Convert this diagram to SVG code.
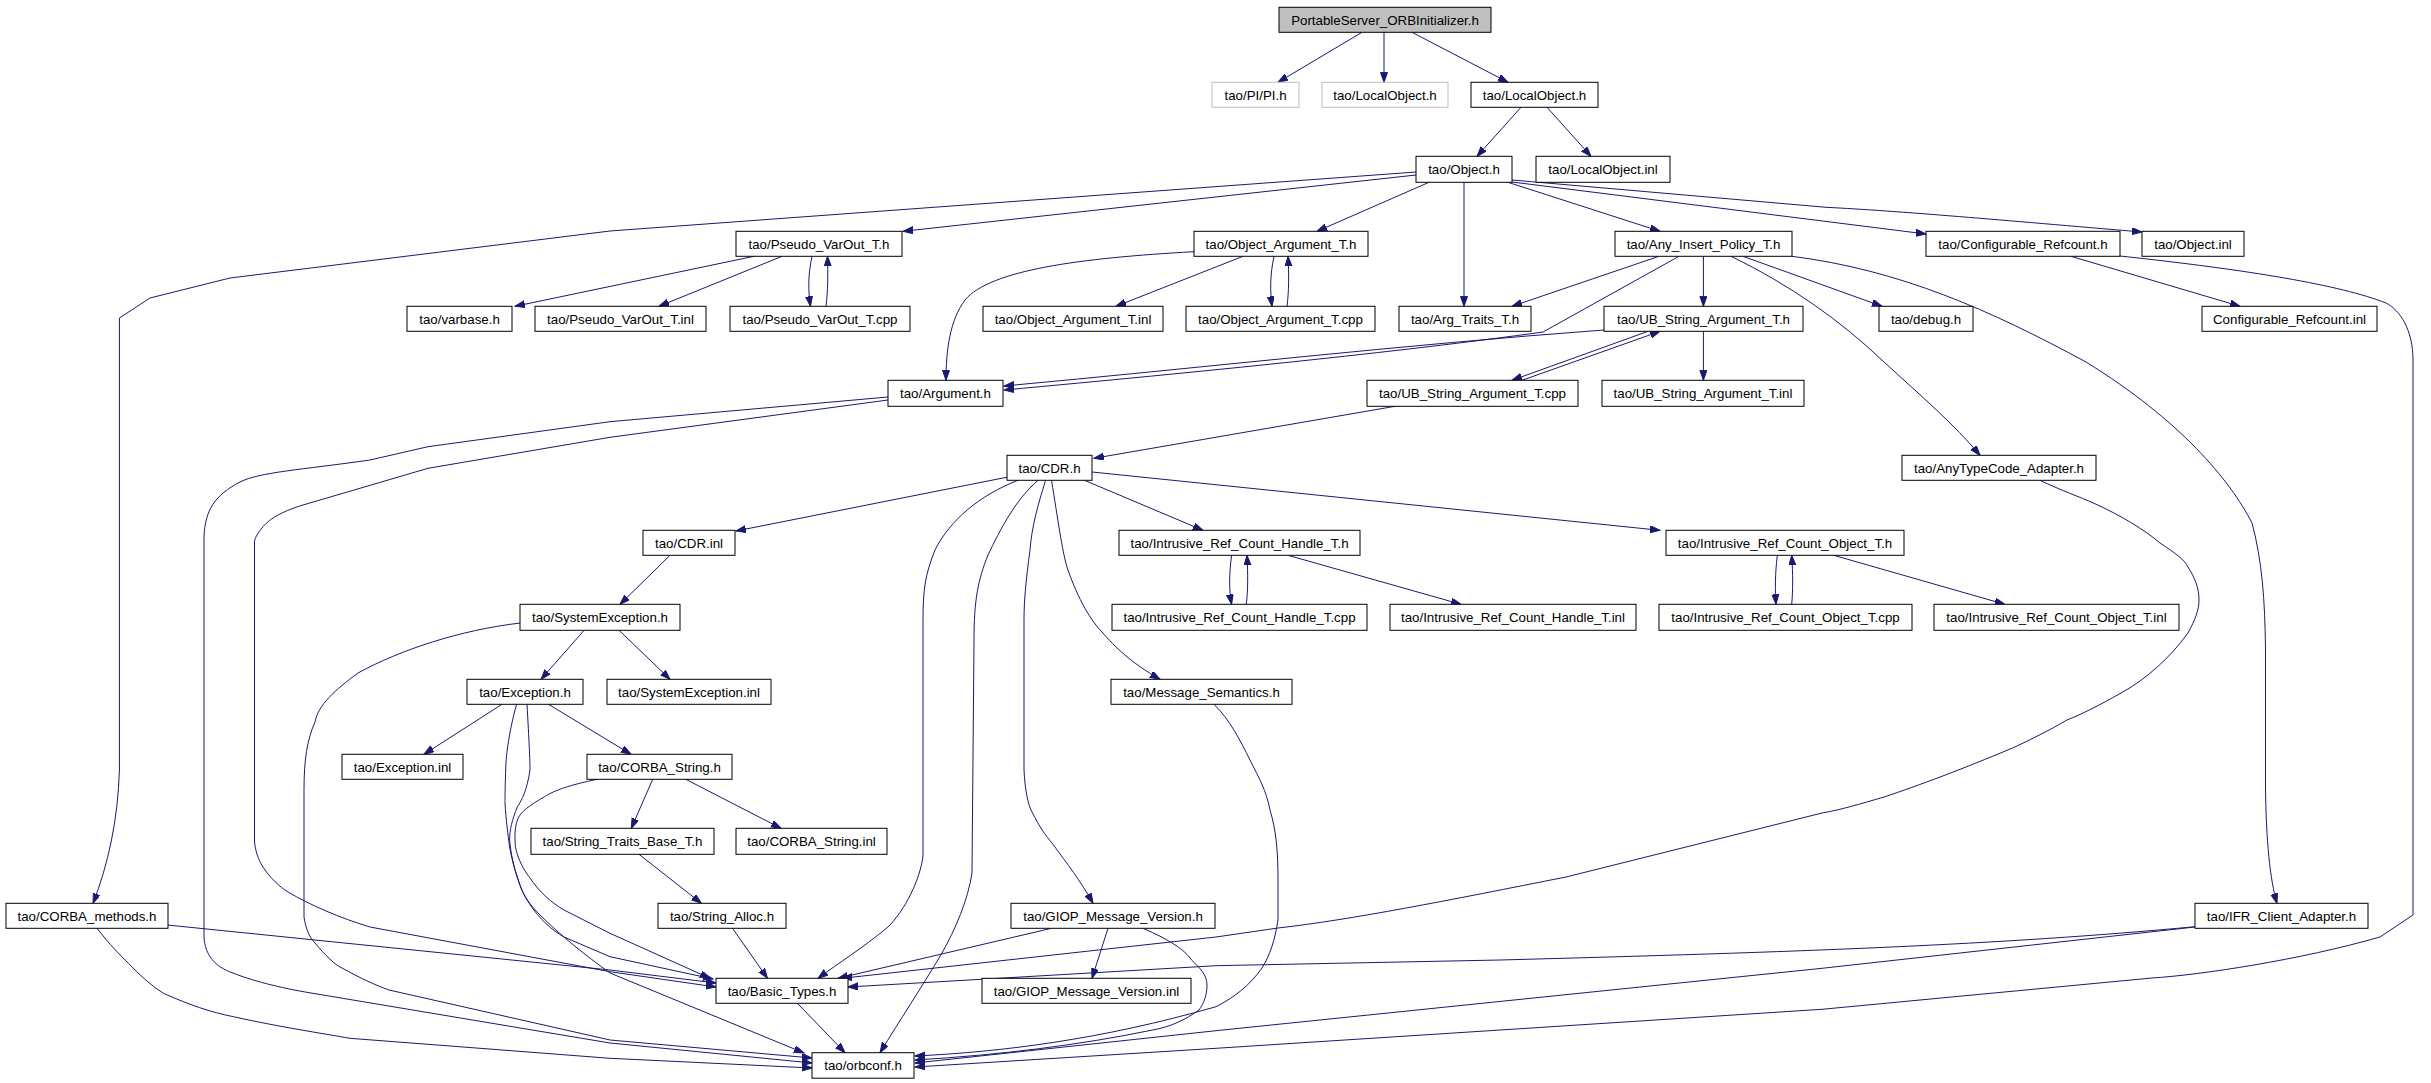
<svg xmlns="http://www.w3.org/2000/svg" width="2431" height="1083" viewBox="0 0 2431 1083">
<style>
.n rect{fill:#ffffff;stroke:#000000;stroke-width:1}
.g rect{fill:#ffffff;stroke:#bfbfbf;stroke-width:1}
.r rect{fill:#bfbfbf;stroke:#000000;stroke-width:1}
text{font-family:"Liberation Sans",Arial,sans-serif;font-size:13.3px;fill:#000000;text-anchor:middle}
#edges path{fill:none;stroke:#191970;stroke-width:1;marker-end:url(#ah)}
</style>
<defs>
<marker id="ah" markerUnits="userSpaceOnUse" markerWidth="11" markerHeight="8" refX="10" refY="3.5" orient="auto">
<path d="M0,0 L10,3.5 L0,7 Z" fill="#191970" stroke="#191970" stroke-width="1"/>
</marker>
</defs>
<rect x="0" y="0" width="2431" height="1083" fill="#ffffff"/>
<g id="edges">
<path d="M1362,32.3 L1278,82.3"/>
<path d="M1384,32.3 L1384,82.3"/>
<path d="M1412,32.3 L1508,82.3"/>
<path d="M1521,107.3 L1477,156.3"/>
<path d="M1547,107.3 L1591,156.3"/>
<path d="M1416,172 L610,231 L230,278 L150,298 L119.4,318 L119.4,770 C118,820 108,865 93,903.3"/>
<path d="M1416,175 L903,231.3"/>
<path d="M1429,182.3 L1317,231.3"/>
<path d="M1464,182.3 L1464,306.3"/>
<path d="M1508,182.3 L1660,231.3"/>
<path d="M1512,182 L1926,234"/>
<path d="M1512,180 L1826,207.3 C1900,211 2000,220 2142,232"/>
<path d="M754,256.3 L515,306.3"/>
<path d="M782,256.3 L659,306.3"/>
<path d="M812,256.3 C808,275 808,290 810.5,306.3"/>
<path d="M826,306.3 C828,290 828,275 827.5,256.3"/>
<path d="M1194,251.7 C1080,258 990,270 965,300 C950,320 946,350 946,380.3"/>
<path d="M1243,256.3 L1116,306.3"/>
<path d="M1274,256.3 C1270,275 1270,290 1272,306.3"/>
<path d="M1287,306.3 C1289,290 1289,275 1288,256.3"/>
<path d="M1659,256.3 L1512,306.3"/>
<path d="M1679,256.3 L1543,332 C1400,352 1200,372 1004,390"/>
<path d="M1604,330 C1400,345 1200,368 1004,386"/>
<path d="M1703.4,256.3 L1703.4,306.3"/>
<path d="M1743,256.3 L1882,306.3"/>
<path d="M1731,256.3 C1790,285 1840,320 1884,362 C1920,395 1955,425 1980,455.3"/>
<path d="M1792,256.3 C1900,270 1990,310 2086,362 C2180,420 2230,480 2252,523 C2262,560 2265,600 2265.5,650 L2265.5,786 C2266,840 2270,880 2277,903.3"/>
<path d="M2071,256.3 L2240,306.3"/>
<path d="M2120,256 C2250,270 2340,285 2386,303 C2400,310 2413,330 2413,360 L2413,915 L2380,937 C2300,960 2200,975 2152,978 L1822,1009.3 L1216,1048.3 L915,1067"/>
<path d="M888,397 L610,421.7 L428,446.7 L370,460 C300,470 260,472 240,482 C215,495 205,510 204,537 L204,937 C205,955 215,967 233,973 C250,980 280,988 311,993 L610,1043 L812,1063"/>
<path d="M888,400 L610,437.3 L428,468.3 L303,505 C280,512 268,520 262,528 C256,535 254.5,540 254.5,542 L254.5,842 C256,855 260,862 263,867 C270,878 280,887 288,892 C310,905 340,918 370,927 L610,971.7 L716,987"/>
<path d="M1008,477 L736,531"/>
<path d="M1018,480.3 C980,495 950,520 935,550 C925,575 923,590 923,620 L923,856 C920,880 905,910 888,927 C860,950 840,962 818,978.3"/>
<path d="M1038,480.3 C1015,500 1000,530 988,555 C978,580 974,600 974,640 L972,873 C968,900 955,930 942,953 C920,990 900,1020 880,1052.7"/>
<path d="M1045.6,480.3 C1038,505 1032,525 1030,550 C1026,580 1024,600 1024,620 L1024,770 C1025,790 1028,805 1032,812 C1040,828 1046,836 1052,843 C1068,865 1080,880 1093,903.3"/>
<path d="M1051.5,480.3 C1058,520 1062,550 1067,567 C1078,600 1092,622 1102,632 C1115,647 1130,662 1160,679.3"/>
<path d="M1084.5,480.3 L1203,530.3"/>
<path d="M1092,472 L1660,530.3"/>
<path d="M1231.6,555.3 C1229,575 1229,590 1231.6,604.3"/>
<path d="M1246.3,604.3 C1248,590 1248,575 1247,555.3"/>
<path d="M1288,555.3 L1461,604.3"/>
<path d="M1777.3,555.3 C1775,575 1775,590 1776,604.3"/>
<path d="M1791.7,604.3 C1793,590 1793,575 1791.7,555.3"/>
<path d="M1833.7,555.3 L2004.8,604.3"/>
<path d="M1395,406.3 L1094,458.3"/>
<path d="M1648,331.3 L1512,380.3"/>
<path d="M1522,380.3 L1660,331.3"/>
<path d="M1703.4,331.3 L1703.4,380.3"/>
<path d="M670,555.3 L620,604.3"/>
<path d="M585,629.3 L541,679.3"/>
<path d="M618,629.3 L670,679.3"/>
<path d="M520.5,623 C460,630 400,650 358,673 C335,690 318,705 315,722 C307,740 304,760 304,790 L304,917 C306,930 310,938 315,943 C325,955 335,965 342,968 C360,978 375,985 389,990 L610,1040 L812,1058"/>
<path d="M502,704.3 L424,754.3"/>
<path d="M548.5,704.3 L631,754.3"/>
<path d="M516.6,704.3 C508,735 505.7,760 505.7,770 C505,790 505,800 505,803 C506,820 508,835 509.6,847 C515,875 522,893 529,903 C540,920 552,930 564,937 L610,956.7 L713,979"/>
<path d="M527,704.3 C529,740 530,760 530,770 C527,790 522,800 517.4,806.7 C512,820 509.6,830 509.6,840 C511,855 514,868 517.4,876.7 C522,895 530,905 540,915 C560,935 585,955 610,973 L804,1053"/>
<path d="M597,779.3 C570,785 555,790 544.6,796.7 C530,805 520,812 517.4,820 C514,830 515,840 515.4,846.7 C518,860 524,870 529,876.7 C540,893 552,903 564,910 L610,933.3 L710,978.3"/>
<path d="M652.7,779.3 L631.3,828.3"/>
<path d="M685.8,779.3 L781,828.3"/>
<path d="M639,854.3 L701.4,903.3"/>
<path d="M167.3,925 L610,970 L716,983"/>
<path d="M97,928.3 C110,945 120,955 128.4,963.3 C140,975 150,985 163.4,993.3 C190,1005 210,1012 233.4,1016.7 C280,1027 320,1033 350,1038.3 L610,1058.3 L812,1068"/>
<path d="M732.5,928.3 L767.5,978.3"/>
<path d="M797.4,1003.3 L845,1052.7"/>
<path d="M1051.5,928.3 L838,978.3"/>
<path d="M1108,928.3 L1092,978.3"/>
<path d="M1143,928.3 C1170,940 1185,950 1191.5,960 C1200,968 1207,975 1207,985 C1207,995 1204,1003 1199,1010 C1185,1020 1170,1027 1152.6,1030 C1080,1045 1000,1055 915,1060"/>
<path d="M1214,704.3 C1230,720 1240,740 1250,760 C1260,780 1266,790 1270,810 C1276,830 1278,850 1278,880 L1278,920 C1275,940 1270,955 1262,968 C1250,985 1235,997 1216,1006.7 C1100,1040 1000,1052 915,1056"/>
<path d="M2040,480.3 C2060,490 2080,497 2094,503.3 C2120,515 2145,530 2160,543 C2175,553 2185,560 2188,567 C2195,578 2199,588 2199,600 C2199,610 2195,620 2188,633 C2170,658 2145,680 2121,693 C2100,705 2080,715 2067,720 C2050,730 2030,740 2012.6,748 C1960,770 1920,785 1884,797 C1860,804 1840,810 1822,813 L1566,877 C1450,900 1350,920 1278,928 L1216,937 L842,978.3"/>
<path d="M2195,926.7 C2000,945 1800,952 1500,960 L1216,965.7 L848,987"/>
<path d="M2195,927 L1822,968.3 L1216,1030.7 L915,1063"/>
</g>
<g id="n0" class="r"><rect x="1279" y="7.3" width="212" height="25"/><text x="1385" y="24.8">PortableServer_ORBInitializer.h</text></g>
<g id="n1" class="g"><rect x="1212" y="82.3" width="87" height="25"/><text x="1255.5" y="99.8">tao/PI/PI.h</text></g>
<g id="n2" class="g"><rect x="1322" y="82.3" width="126" height="25"/><text x="1385" y="99.8">tao/LocalObject.h</text></g>
<g id="n3" class="n"><rect x="1471" y="82.3" width="127" height="25"/><text x="1534.5" y="99.8">tao/LocalObject.h</text></g>
<g id="n4" class="n"><rect x="1416" y="156.3" width="96" height="26"/><text x="1464" y="174.3">tao/Object.h</text></g>
<g id="n5" class="n"><rect x="1536" y="156.3" width="134" height="26"/><text x="1603" y="174.3">tao/LocalObject.inl</text></g>
<g id="n6" class="n"><rect x="736" y="231.3" width="166" height="25"/><text x="819" y="248.8">tao/Pseudo_VarOut_T.h</text></g>
<g id="n7" class="n"><rect x="1194" y="231.3" width="174" height="25"/><text x="1281" y="248.8">tao/Object_Argument_T.h</text></g>
<g id="n8" class="n"><rect x="1615" y="231.3" width="177" height="25"/><text x="1703.5" y="248.8">tao/Any_Insert_Policy_T.h</text></g>
<g id="n9" class="n"><rect x="1926" y="231.3" width="194" height="25"/><text x="2023" y="248.8">tao/Configurable_Refcount.h</text></g>
<g id="n10" class="n"><rect x="2142" y="231.3" width="102" height="25"/><text x="2193" y="248.8">tao/Object.inl</text></g>
<g id="n11" class="n"><rect x="407" y="306.3" width="105" height="25"/><text x="459.5" y="323.8">tao/varbase.h</text></g>
<g id="n12" class="n"><rect x="535" y="306.3" width="171" height="25"/><text x="620.5" y="323.8">tao/Pseudo_VarOut_T.inl</text></g>
<g id="n13" class="n"><rect x="730" y="306.3" width="180" height="25"/><text x="820" y="323.8">tao/Pseudo_VarOut_T.cpp</text></g>
<g id="n14" class="n"><rect x="983" y="306.3" width="180" height="25"/><text x="1073" y="323.8">tao/Object_Argument_T.inl</text></g>
<g id="n15" class="n"><rect x="1186" y="306.3" width="189" height="25"/><text x="1280.5" y="323.8">tao/Object_Argument_T.cpp</text></g>
<g id="n16" class="n"><rect x="1399" y="306.3" width="132" height="25"/><text x="1465" y="323.8">tao/Arg_Traits_T.h</text></g>
<g id="n17" class="n"><rect x="1604" y="306.3" width="199" height="25"/><text x="1703.5" y="323.8">tao/UB_String_Argument_T.h</text></g>
<g id="n18" class="n"><rect x="1879" y="306.3" width="94" height="25"/><text x="1926" y="323.8">tao/debug.h</text></g>
<g id="n19" class="n"><rect x="2202" y="306.3" width="175" height="25"/><text x="2289.5" y="323.8">Configurable_Refcount.inl</text></g>
<g id="n20" class="n"><rect x="888" y="380.3" width="115" height="26"/><text x="945.5" y="398.3">tao/Argument.h</text></g>
<g id="n21" class="n"><rect x="1367" y="380.3" width="211" height="26"/><text x="1472.5" y="398.3">tao/UB_String_Argument_T.cpp</text></g>
<g id="n22" class="n"><rect x="1602" y="380.3" width="202" height="26"/><text x="1703" y="398.3">tao/UB_String_Argument_T.inl</text></g>
<g id="n23" class="n"><rect x="1007" y="455.3" width="85" height="25"/><text x="1049.5" y="472.8">tao/CDR.h</text></g>
<g id="n24" class="n"><rect x="1902" y="455.3" width="194" height="25"/><text x="1999" y="472.8">tao/AnyTypeCode_Adapter.h</text></g>
<g id="n25" class="n"><rect x="643" y="530.3" width="92" height="25"/><text x="689" y="547.8">tao/CDR.inl</text></g>
<g id="n26" class="n"><rect x="1119" y="530.3" width="241" height="25"/><text x="1239.5" y="547.8">tao/Intrusive_Ref_Count_Handle_T.h</text></g>
<g id="n27" class="n"><rect x="1666" y="530.3" width="238" height="25"/><text x="1785" y="547.8">tao/Intrusive_Ref_Count_Object_T.h</text></g>
<g id="n28" class="n"><rect x="520" y="604.3" width="160" height="26"/><text x="600" y="622.3">tao/SystemException.h</text></g>
<g id="n29" class="n"><rect x="1112" y="604.3" width="255" height="26"/><text x="1239.5" y="622.3">tao/Intrusive_Ref_Count_Handle_T.cpp</text></g>
<g id="n30" class="n"><rect x="1390" y="604.3" width="246" height="26"/><text x="1513" y="622.3">tao/Intrusive_Ref_Count_Handle_T.inl</text></g>
<g id="n31" class="n"><rect x="1659" y="604.3" width="253" height="26"/><text x="1785.5" y="622.3">tao/Intrusive_Ref_Count_Object_T.cpp</text></g>
<g id="n32" class="n"><rect x="1934" y="604.3" width="245" height="26"/><text x="2056.5" y="622.3">tao/Intrusive_Ref_Count_Object_T.inl</text></g>
<g id="n33" class="n"><rect x="467" y="679.3" width="116" height="25"/><text x="525" y="696.8">tao/Exception.h</text></g>
<g id="n34" class="n"><rect x="607" y="679.3" width="164" height="25"/><text x="689" y="696.8">tao/SystemException.inl</text></g>
<g id="n35" class="n"><rect x="1111" y="679.3" width="181" height="25"/><text x="1201.5" y="696.8">tao/Message_Semantics.h</text></g>
<g id="n36" class="n"><rect x="342" y="754.3" width="121" height="25"/><text x="402.5" y="771.8">tao/Exception.inl</text></g>
<g id="n37" class="n"><rect x="587" y="754.3" width="145" height="25"/><text x="659.5" y="771.8">tao/CORBA_String.h</text></g>
<g id="n38" class="n"><rect x="531" y="828.3" width="183" height="26"/><text x="622.5" y="846.3">tao/String_Traits_Base_T.h</text></g>
<g id="n39" class="n"><rect x="736" y="828.3" width="151" height="26"/><text x="811.5" y="846.3">tao/CORBA_String.inl</text></g>
<g id="n40" class="n"><rect x="6" y="903.3" width="162" height="25"/><text x="87" y="920.8">tao/CORBA_methods.h</text></g>
<g id="n41" class="n"><rect x="658" y="903.3" width="128" height="25"/><text x="722" y="920.8">tao/String_Alloc.h</text></g>
<g id="n42" class="n"><rect x="1011" y="903.3" width="204" height="25"/><text x="1113" y="920.8">tao/GIOP_Message_Version.h</text></g>
<g id="n43" class="n"><rect x="2195" y="903.3" width="173" height="25"/><text x="2281.5" y="920.8">tao/IFR_Client_Adapter.h</text></g>
<g id="n44" class="n"><rect x="716" y="978.3" width="132" height="25"/><text x="782" y="995.8">tao/Basic_Types.h</text></g>
<g id="n45" class="n"><rect x="982" y="978.3" width="209" height="25"/><text x="1086.5" y="995.8">tao/GIOP_Message_Version.inl</text></g>
<g id="n46" class="n"><rect x="812" y="1052.7" width="102" height="25.5"/><text x="863" y="1070.4">tao/orbconf.h</text></g>
</svg>
